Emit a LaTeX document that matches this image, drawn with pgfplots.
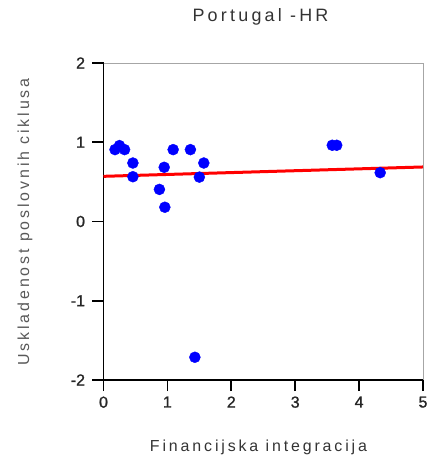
\documentclass[border=0pt]{standalone}
\usepackage{fontspec}
\setmainfont{Liberation Sans}[LetterSpace=18]
\newfontface\tickfont{Liberation Sans}[FakeBold=1.2]
\usepackage{pgfplots}
\pgfplotsset{compat=1.18}
\begin{document}
\begin{tikzpicture}
\path[use as bounding box] (-103.5bp,-85bp) rectangle (337.5bp,380bp);
\begin{axis}[
  at={(0,0)}, anchor=south west,
  scale only axis, width=319.5bp, height=317bp,
  xmin=0, xmax=5, ymin=-2, ymax=2,
  axis x line*=bottom, axis y line*=left,
  axis line style={line width=1.6bp, black, -},
  xtick={0,1,2,3,4,5}, ytick={-2,-1,0,1,2},
  xtick align=outside, ytick align=outside, major tick length=11bp,
  tick style={line width=1.6bp, black},
  /pgf/number format/assume math mode=true,
  ticklabel style={font=\tickfont\fontsize{16}{19}\selectfont, text=black!85},
  xticklabel style={yshift=-2bp},
  yticklabel style={xshift=-4bp},
  clip=false,
]
\draw[gray!70, line width=0.6bp] (rel axis cs:0,1) -- (rel axis cs:1,1) -- (rel axis cs:1,0);
\addplot[only marks, mark=*, mark size=5.5bp, color=blue, mark options={draw=blue, fill=blue}] coordinates {
(0.18,0.907) (0.25,0.958) (0.33,0.907) (0.46,0.738) (0.46,0.565)
(0.95,0.684) (0.875,0.405) (0.96,0.18) (1.09,0.907) (1.36,0.907)
(1.57,0.738) (1.50,0.56) (1.43,-1.713) (3.58,0.962) (3.65,0.962) (4.33,0.616)
};
\addplot[red, line width=3bp] coordinates {(0,0.57) (5,0.688)};
\end{axis}
\node[font=\fontsize{18}{21}\selectfont, text=black!80] at (157bp,363bp) {Portugal -HR};
\node[font=\fontsize{16}{19}\selectfont, text=black!65, rotate=90] at (-78.5bp,158bp) {Uskladenost poslovnih ciklusa};
\node[font=\fontsize{16}{19}\selectfont, text=black!80] at (155bp,-67bp) {Financijska integracija};
\end{tikzpicture}
\end{document}
